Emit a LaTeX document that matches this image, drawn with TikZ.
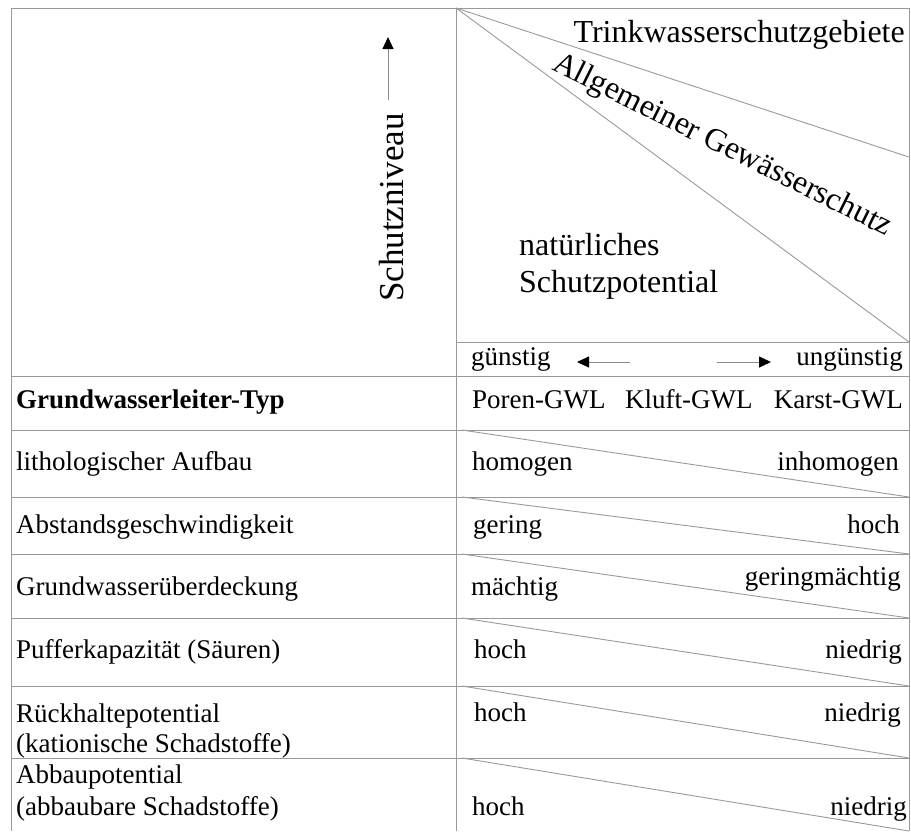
\documentclass[tikz,border=0pt]{standalone}
\usepackage{fontspec}
\setmainfont{Liberation Serif}
\usetikzlibrary{arrows.meta}

\tikzset{
  rule/.style={draw=black!40, line width=0.9pt},
  tabtext/.style={inner sep=0pt, font=\fontsize{27}{31}\selectfont},
  bigtext/.style={inner sep=0pt, font=\fontsize{32}{37}\selectfont},
  pointer/.style={draw=black!45, line width=0.9pt, -{Triangle[length=12pt, width=11pt, color=black]}},
}

\begin{document}
\begin{tikzpicture}[x=1pt, y=-1pt] % Tikz environment
\useasboundingbox (0,0) rectangle (911,831);

% frame and rows
\draw[rule] (11,831) -- (11,8) -- (909,8) -- (909,831);
\draw[rule] (456,8) -- (456,831);
\draw[rule] (456,342) -- (909,342);
\foreach \y in {376,430,497,554,618,686,758}
  \draw[rule] (11,\y) -- (909,\y);

% wedges of the upper field
\draw[rule] (456,8) -- (909,157);
\draw[rule] (456,8) -- (909,342);
\foreach \a/\b in {430/497,497/554,554/618,618/686,686/758,758/831}
  \draw[rule] (462,\a) -- (909,\b);

\node[bigtext, anchor=base east] (trink) at (905,42) {Trinkwasserschutzgebiete};
\node[bigtext, rotate=-26.5] (allg) at (722,146) {Allgemeiner Gewässerschutz};
\node[bigtext, anchor=base west] (nat) at (519,255) {natürliches};
\node[bigtext, anchor=base west] (pot) at (519,292) {Schutzpotential};

\node[inner sep=0pt, font=\fontsize{35}{40}\selectfont, rotate=90, anchor=base west] (niveau) at (403,302) {Schutzniveau};
\coordinate (niveau0) at (388,100);
\coordinate (niveau1) at (388,37);
\draw[pointer] (niveau0) -- (niveau1);

\node[tabtext, anchor=base west] (guenstig) at (471,365) {günstig};
\node[tabtext, anchor=base east] (unguenstig) at (903,365) {ungünstig};
\coordinate (links0) at (630,362);
\coordinate (links1) at (577,362);
\coordinate (rechts0) at (717,362);
\coordinate (rechts1) at (771,362);
\draw[pointer] (links0) -- (links1);
\draw[pointer] (rechts0) -- (rechts1);

\node[tabtext, anchor=base west, font=\fontsize{27}{31}\selectfont\bfseries] (typ) at (16,408) {Grundwasserleiter-Typ};
\node[tabtext, anchor=base west] (poren) at (472,408) {Poren-GWL};
\node[tabtext, anchor=base west] (kluft) at (625,408) {Kluft-GWL};
\node[tabtext, anchor=base east] (karst) at (903,408) {Karst-GWL};

% criteria
\foreach \y/\t [count=\i] in {470/{lithologischer Aufbau}, 533/{Abstandsgeschwindigkeit},
    595/{Grundwasserüberdeckung}, 658/{Pufferkapazität (Säuren)}, 722/{Rückhaltepotential},
    752/{(kationische Schadstoffe)}, 783/{Abbaupotential}, 815/{(abbaubare Schadstoffe)}}
  \node[tabtext, anchor=base west] (krit\i) at (16,\y) {\t};

% from favourable to unfavourable
\foreach \x/\y/\t [count=\i] in {472/470/homogen, 473/533/gering, 471/595/mächtig,
    474/658/hoch, 474/721/hoch, 472/815/hoch}
  \node[tabtext, anchor=base west] (gut\i) at (\x,\y) {\t};
\foreach \x/\y/\t [count=\i] in {899/470/inhomogen, 900/533/hoch, 901/585/geringmächtig,
    902/658/niedrig, 901/721/niedrig, 907/815/niedrig}
  \node[tabtext, anchor=base east] (schlecht\i) at (\x,\y) {\t};
\end{tikzpicture}
\end{document}
